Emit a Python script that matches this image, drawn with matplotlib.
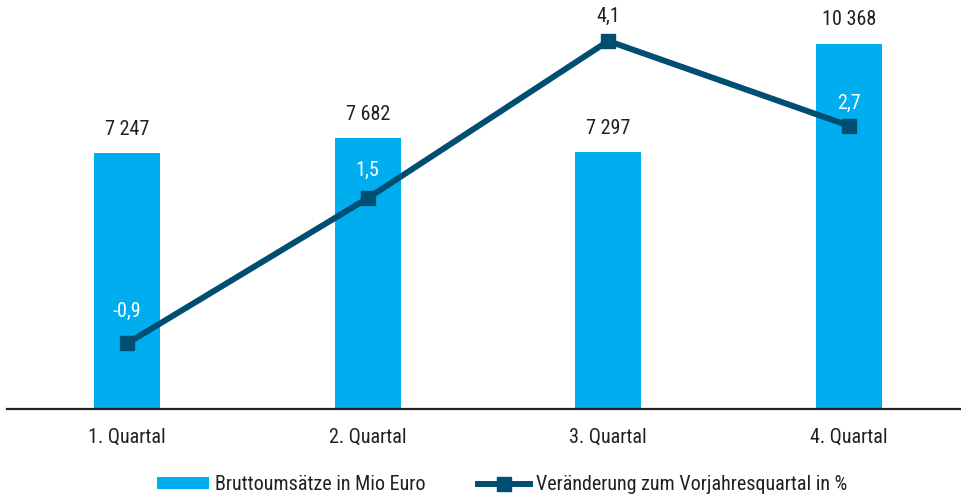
""" Quarterly gross sales with year-on-year change
"""

import matplotlib
matplotlib.use('Agg')
import matplotlib.pyplot as plt

quarters = ['1. Quartal', '2. Quartal', '3. Quartal', '4. Quartal']
sales = [7247, 7682, 7297, 10368]
change = [-0.9, 1.5, 4.1, 2.7]

bar_label = 'Bruttoumsätze in Mio Euro'
line_label = 'Veränderung zum Vorjahresquartal in %'

BAR_COLOR = '#00AEEF'
LINE_COLOR = '#004E72'
TEXT_COLOR = '#231F20'
FS = 14.5

plt.rcParams['font.family'] = ['Roboto Condensed', 'DejaVu Sans']
plt.rcParams['font.size'] = FS

fig = plt.figure(figsize=(9.61, 4.98), dpi=100)
W, H = 961, 498

# axes: x from 7px (cropped on the right), baseline at 408.5px, top at figure edge
ax = fig.add_axes([7 / W, (H - 408.5) / H, 962 / W, 408.5 / H])
xs = range(len(quarters))
bars = ax.bar(xs, sales, width=0.274, color=BAR_COLOR, label=bar_label, zorder=2)
ax.set_xlim(-0.5, 3.5)
ax.set_ylim(0, 11605)

for x, v in zip(xs, sales):
    ax.annotate('{:,}'.format(v).replace(',', ' '), (x, v),
                xytext=(0, 17), textcoords='offset points',
                ha='center', va='center', color=TEXT_COLOR, fontsize=FS)

for side in ['top', 'right', 'left']:
    ax.spines[side].set_visible(False)
ax.spines['bottom'].set_linewidth(1.6)
ax.spines['bottom'].set_color(TEXT_COLOR)
ax.set_yticks([])
ax.set_xticks(list(xs))
ax.set_xticklabels(quarters, color=TEXT_COLOR, fontsize=FS)
ax.tick_params(axis='x', length=0, pad=13.5)

ax2 = ax.twinx()
ax2.set_ylim(-1.978, 4.778)
line, = ax2.plot(list(xs), change, color=LINE_COLOR, linewidth=4.3,
                 marker='s', markersize=10, label=line_label, zorder=3)
ax2.set_yticks([])
for side in ['top', 'right', 'left', 'bottom']:
    ax2.spines[side].set_visible(False)

label_colors = ['white', 'white', TEXT_COLOR, 'white']
label_offsets = [23, 20, 18, 16]
for x, v, c, off in zip(xs, change, label_colors, label_offsets):
    ax2.annotate('{:.1f}'.format(v).replace('.', ','), (x, v),
                 xytext=(0, off), textcoords='offset points',
                 ha='center', va='center', color=c, fontsize=FS)

fig.legend([bars, line], [bar_label, line_label],
           loc='center', bbox_to_anchor=(502 / W, 1 - 484.5 / H),
           ncol=2, frameon=False, fontsize=FS, handlelength=2.6,
           handleheight=0.5, handletextpad=0.3, columnspacing=2.6,
           labelcolor=TEXT_COLOR)

fig.savefig('out.png', dpi=100)
